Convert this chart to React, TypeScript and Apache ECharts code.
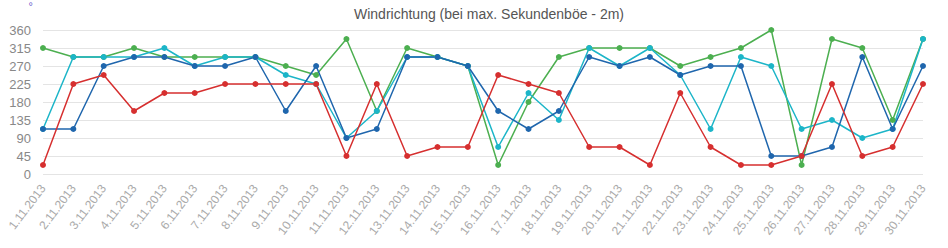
import React, { useEffect, useRef } from "react";
import * as echarts from "echarts";

const categories = [
  "1.11.2013", "2.11.2013", "3.11.2013", "4.11.2013", "5.11.2013", "6.11.2013",
  "7.11.2013", "8.11.2013", "9.11.2013", "10.11.2013", "11.11.2013", "12.11.2013",
  "13.11.2013", "14.11.2013", "15.11.2013", "16.11.2013", "17.11.2013", "18.11.2013",
  "19.11.2013", "20.11.2013", "21.11.2013", "22.11.2013", "23.11.2013", "24.11.2013",
  "25.11.2013", "26.11.2013", "27.11.2013", "28.11.2013", "29.11.2013", "30.11.2013",
];

const greenValues = [
  315, 292.5, 292.5, 315, 292.5, 292.5, 292.5, 292.5, 270, 247.5,
  337.5, 157.5, 315, 292.5, 270, 22.5, 180, 292.5, 315, 315,
  315, 270, 292.5, 315, 360, 22.5, 337.5, 315, 135, 337.5,
];
const tealValues = [
  112.5, 292.5, 292.5, 292.5, 315, 270, 292.5, 292.5, 247.5, 225,
  90, 157.5, 292.5, 292.5, 270, 67.5, 202.5, 135, 315, 270,
  315, 247.5, 112.5, 292.5, 270, 112.5, 135, 90, 112.5, 337.5,
];
const blueValues = [
  112.5, 112.5, 270, 292.5, 292.5, 270, 270, 292.5, 157.5, 270,
  90, 112.5, 292.5, 292.5, 270, 157.5, 112.5, 157.5, 292.5, 270,
  292.5, 247.5, 270, 270, 45, 45, 67.5, 292.5, 112.5, 270,
];
const redValues = [
  22.5, 225, 247.5, 157.5, 202.5, 202.5, 225, 225, 225, 225,
  45, 225, 45, 67.5, 67.5, 247.5, 225, 202.5, 67.5, 67.5,
  22.5, 202.5, 67.5, 22.5, 22.5, 45, 225, 45, 67.5, 225,
];

const titleText = "Windrichtung (bei max. Sekundenböe - 2m)";
const axisUnit = "°";

const FONT = "'Liberation Sans', Arial, sans-serif";

function mkSeries(name: string, data: number[], color: string) {
  return {
    name,
    type: "line",
    data,
    symbol: "circle",
    symbolSize: 6,
    showSymbol: true,
    lineStyle: { width: 1.5, color },
    itemStyle: { color },
  };
}

export default function App() {
  const ref = useRef<HTMLDivElement>(null);
  useEffect(() => {
    if (!ref.current) return;
    const chart = echarts.init(ref.current, undefined, { renderer: "svg" });
    chart.setOption({
      animation: false,
      backgroundColor: "#ffffff",
      title: {
        text: titleText,
        left: 349,
        top: 2,
        textStyle: { fontFamily: FONT, fontSize: 14, fontWeight: "normal", color: "#555555" },
      },
      grid: { left: 43, right: 25, top: 30, bottom: 74, containLabel: false },
      xAxis: {
        type: "category",
        data: categories,
        boundaryGap: false,
        axisLine: { show: false },
        axisTick: { show: false },
        splitLine: { show: false },
        axisLabel: {
          rotate: 53,
          interval: 0,
          margin: 12,
          fontFamily: FONT,
          fontSize: 12,
          color: "#aaaaaa",
        },
      },
      yAxis: {
        type: "value",
        min: 0,
        max: 360,
        interval: 45,
        name: axisUnit,
        nameLocation: "end",
        nameGap: 19,
        nameTextStyle: { fontFamily: FONT, fontSize: 11, color: "#6a5acd", align: "right", padding: [0, 10, 0, 0] },
        axisLine: { show: false },
        axisTick: { show: false },
        splitLine: { lineStyle: { color: "#e4e4e4", width: 1 } },
        axisLabel: { fontFamily: FONT, fontSize: 13, color: "#888888", margin: 12 },
      },
      series: [
        mkSeries("A", greenValues, "#4caf50"),
        mkSeries("B", tealValues, "#1cb5c8"),
        mkSeries("C", blueValues, "#1f66ad"),
        mkSeries("D", redValues, "#d62f2f"),
      ],
    });
    return () => chart.dispose();
  }, []);
  return (
    <div
      ref={ref}
      style={{ position: "fixed", left: 0, top: 0, width: 948, height: 248, background: "#fff" }}
    />
  );
}
